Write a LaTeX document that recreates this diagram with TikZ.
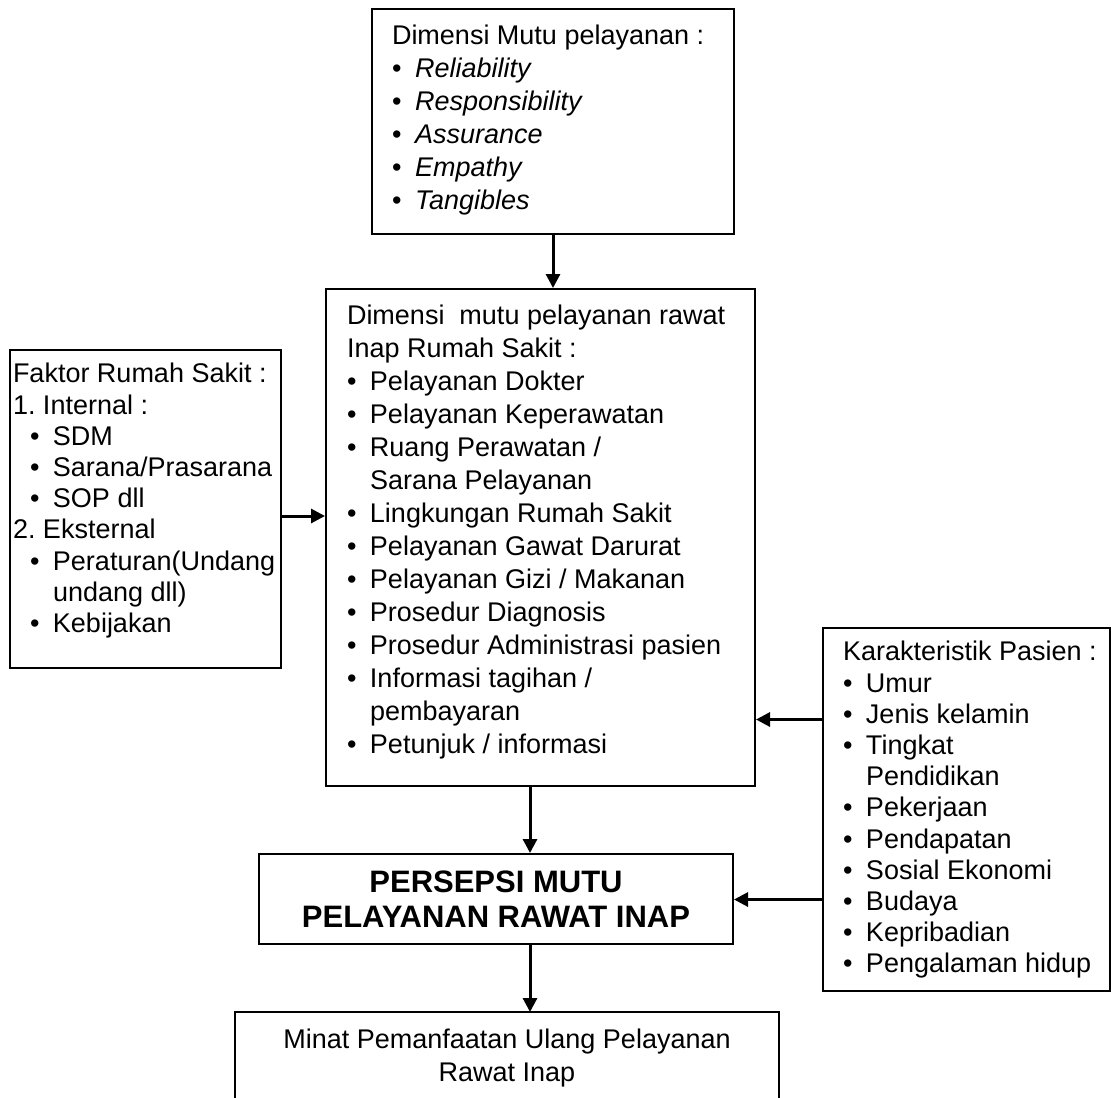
\documentclass[tikz,border=0pt]{standalone}
\usepackage{fontspec}
\setmainfont{Liberation Sans}
\usetikzlibrary{positioning, arrows.meta}
\frenchspacing

\newcommand{\isi}[4][0pt]{\parbox[t][#3][t]{#2}{\raggedright\leftskip=#1\relax\strut #4}}
\newcommand{\butir}[1][11.5pt]{\makebox[#1][l]{\textbullet}}
\newcommand{\lanjut}{\hspace*{11.5pt}}

\begin{document}
\begin{tikzpicture}[x=0.5pt, y=-0.5pt,
	kotak/.style={draw, line width=1pt, anchor=north west, inner xsep=10pt, inner ysep=6pt,
		font=\fontsize{13.5}{16.5}\selectfont},
	rapat/.style={kotak, inner ysep=5.5pt, font=\fontsize{13.5}{15.6}\selectfont},
	panah/.style={-{Triangle[length=7pt,width=7pt]}, line width=1.5pt}]
	\useasboundingbox (0,0) rectangle (1111,1097);

	\node[kotak] (mutu) at (371,8) {\isi{161pt}{100.5pt}{Dimensi Mutu pelayanan :\\
		\butir\textit{Reliability}\\
		\butir\textit{Responsibility}\\
		\butir\textit{Assurance}\\
		\butir\textit{Empathy}\\
		\butir\textit{Tangibles}}};

	\node[kotak, inner xsep=10.5pt] (tengah) at (325,288) {\isi{193.5pt}{236.5pt}{Dimensi\ \ mutu pelayanan rawat\\
		Inap Rumah Sakit :\\
		\butir Pelayanan Dokter\\
		\butir Pelayanan Keperawatan\\
		\butir Ruang Perawatan /\\
		\lanjut Sarana Pelayanan\\
		\butir Lingkungan Rumah Sakit\\
		\butir Pelayanan Gawat Darurat\\
		\butir Pelayanan Gizi / Makanan\\
		\butir Prosedur Diagnosis\\
		\butir Prosedur Administrasi pasien\\
		\butir Informasi tagihan /\\
		\lanjut pembayaran\\
		\butir Petunjuk / informasi}};

	\node[rapat, inner xsep=1.5pt] (rs) at (9,349) {\isi{132.5pt}{148pt}{Faktor Rumah Sakit :\\
		1. Internal :\\
		\hspace*{8.5pt}\butir SDM\\
		\hspace*{8.5pt}\butir Sarana/Prasarana\\
		\hspace*{8.5pt}\butir SOP dll\\
		2. Eksternal\\
		\hspace*{8.5pt}\butir Peraturan(Undang\\
		\hspace*{8.5pt}\lanjut undang dll)\\
		\hspace*{8.5pt}\butir Kebijakan}};

	\node[rapat, inner xsep=1pt] (pasien) at (822,627) {\isi[9pt]{141.5pt}{170.5pt}{Karakteristik Pasien :\\
		\butir Umur\\
		\butir Jenis kelamin\\
		\butir Tingkat\\
		\lanjut Pendidikan\\
		\butir Pekerjaan\\
		\butir Pendapatan\\
		\butir Sosial Ekonomi\\
		\butir Budaya\\
		\butir Kepribadian\\
		\butir Pengalaman hidup}};

	\node[draw, line width=1pt, anchor=north west, inner sep=0pt, minimum width=237pt, minimum height=45pt,
		align=center, font=\fontsize{15.5}{17.5}\selectfont\bfseries] (persepsi) at (258,853) {PERSEPSI MUTU\\PELAYANAN RAWAT INAP};

	\node[kotak, draw=none] (minat) at (235,1012) {\parbox[t][32pt][t]{251pt}{\centering\strut Minat Pemanfaatan Ulang Pelayanan\\Rawat Inap}};
	\draw[line width=1pt] (minat.south west) -- (minat.north west) -- (minat.north east) -- (minat.south east);

	\coordinate (sumbu) at ([xshift=-5.25pt]tengah.south);

	\draw[panah] (mutu.south) -- (mutu.south |- tengah.north);
	\draw[panah] ([yshift=-3.5pt]rs.east) -- ([yshift=-3.5pt]rs.east -| tengah.west);
	\draw[panah] ([yshift=45pt]pasien.west) -- ([yshift=45pt]pasien.west -| tengah.east);
	\draw[panah] ([yshift=-45pt]pasien.west) -- ([yshift=-45pt]pasien.west -| persepsi.east);
	\draw[panah] (sumbu) -- (sumbu |- persepsi.north);
	\draw[panah] (sumbu |- persepsi.south) -- (sumbu |- minat.north);
\end{tikzpicture}
\end{document}
